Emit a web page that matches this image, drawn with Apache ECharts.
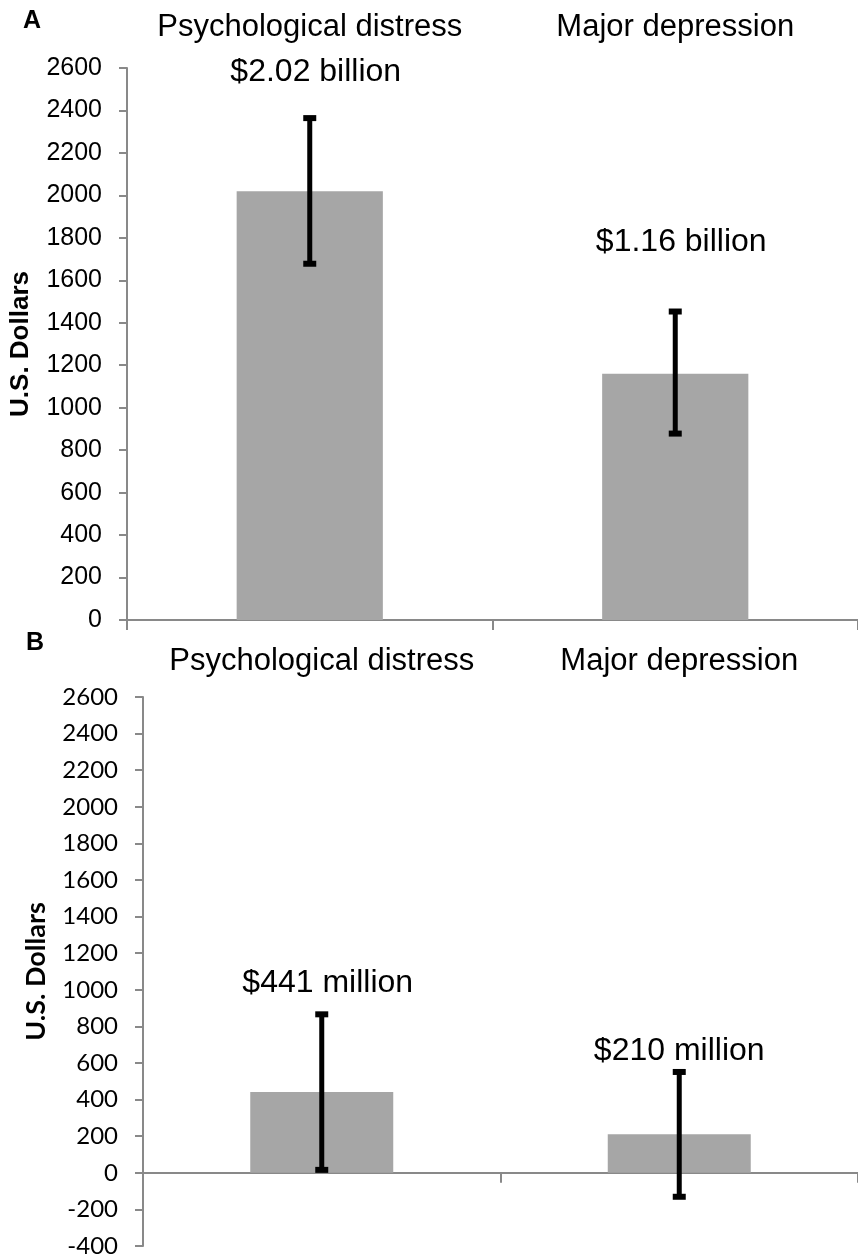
<!DOCTYPE html>
<html>
<head>
<meta charset="utf-8">
<script src="https://cdn.jsdelivr.net/npm/echarts@6/dist/echarts.min.js"></script>
<style>
  html, body { margin: 0; padding: 0; background: #fff; }
  #chart { width: 858px; height: 1258px; }
</style>
</head>
<body>
<div id="chart"></div>
<script>
// ---- data ----
var categories = ['Psychological distress', 'Major depression'];
// Panel A
var costA = [2020, 1160];
var ciLowA = [1678, 878];
var ciHighA = [2364, 1453];
var labelsA = ['$2.02 billion', '$1.16 billion'];
// Panel B
var costB = [441, 210];
var ciLowB = [16, -131];
var ciHighB = [866, 551];
var labelsB = ['$441 million', '$210 million'];
// axis ranges
var yRangeA = { min: 0, max: 2600, interval: 200 };
var yRangeB = { min: -400, max: 2600, interval: 200 };
var axisName = 'U.S. Dollars';

// ---- styles ----
var ARIAL = '"Liberation Sans", Arial, sans-serif';
var CAL = 'Lato, "Liberation Sans", sans-serif';
var AXIS_COLOR = '#898989';
var BAR_COLOR = '#a6a6a6';
// label placement (pixels above the upper error cap, and horizontal nudge)
var labelGapA = [46, 69];
var labelGapB = [31, 21];
var labelDxA = [6, 6];
var labelDxB = [6, 0];

function errData(low, high, labels) {
  return low.map(function (l, i) { return [i, l, high[i], labels[i]]; });
}
function labelsFor(seriesIndex) { return seriesIndex === 1 ? labelsA : labelsB; }

function makeErrRender(gaps, dxs) {
  return function (params, api) {
    var idx = api.value(0);
    var top = api.coord([idx, api.value(2)]);
    var bot = api.coord([idx, api.value(1)]);
    var x = top[0];
    var stemW = 5, capW = 13, capH = 6;
    var label = labelsFor(params.seriesIndex)[params.dataIndex];
    return {
      type: 'group',
      children: [
        { type: 'rect', shape: { x: x - stemW / 2, y: top[1], width: stemW, height: bot[1] - top[1] }, style: { fill: '#000' } },
        { type: 'rect', shape: { x: x - capW / 2, y: top[1] - capH / 2, width: capW, height: capH }, style: { fill: '#000' } },
        { type: 'rect', shape: { x: x - capW / 2, y: bot[1] - capH / 2, width: capW, height: capH }, style: { fill: '#000' } },
        { type: 'text', x: x + dxs[params.dataIndex], y: top[1] - gaps[params.dataIndex],
          style: { text: label, fill: '#000', font: '32px ' + ARIAL, align: 'center', verticalAlign: 'middle' } }
      ]
    };
  };
}

function valueAxis(grid, range, font, fontSize, nameFont, nameSize) {
  return {
    type: 'value', gridIndex: grid, min: range.min, max: range.max, interval: range.interval,
    name: axisName, nameLocation: 'middle', nameGap: 93,
    nameTextStyle: { fontFamily: nameFont, fontSize: nameSize, fontWeight: 'bold', color: '#000' },
    axisLine: { show: true, lineStyle: { color: AXIS_COLOR, width: 2 } },
    axisTick: { show: true, length: 8, lineStyle: { color: AXIS_COLOR, width: 2 } },
    axisLabel: { fontFamily: font, fontSize: fontSize, color: '#000', margin: 25,
      formatter: function (v) { return String(v); } },
    splitLine: { show: false }
  };
}
function bottomCatAxis(grid) {
  return {
    type: 'category', gridIndex: grid, data: categories,
    axisLine: { show: true, lineStyle: { color: AXIS_COLOR, width: 2 } },
    axisTick: { show: true, length: 10, lineStyle: { color: AXIS_COLOR, width: 2 } },
    axisLabel: { show: false }
  };
}
function topCatAxis(grid, margin) {
  return {
    type: 'category', gridIndex: grid, data: categories, position: 'top',
    axisLine: { show: false }, axisTick: { show: false },
    axisLabel: { fontFamily: ARIAL, fontSize: 31, color: '#000', margin: margin, interval: 0, hideOverlap: false }
  };
}

var chart = echarts.init(document.getElementById('chart'), null, { renderer: 'canvas' });
chart.setOption({
  animation: false,
  backgroundColor: '#fff',
  title: [
    { text: 'A', left: 23, top: 9, padding: 0, textStyle: { fontFamily: ARIAL, fontSize: 25, fontWeight: 'bold', color: '#000' } },
    { text: 'B', left: 26, top: 631, padding: 0, textStyle: { fontFamily: ARIAL, fontSize: 25, fontWeight: 'bold', color: '#000' } }
  ],
  grid: [
    { left: 127, top: 68, width: 736, height: 552, containLabel: false },
    { left: 143, top: 697, width: 718, height: 550, containLabel: false }
  ],
  xAxis: [ bottomCatAxis(0), topCatAxis(0, 25), bottomCatAxis(1), topCatAxis(1, 20) ],
  yAxis: [
    valueAxis(0, yRangeA, ARIAL, 25, ARIAL, 26),
    valueAxis(1, yRangeB, CAL, 24, CAL, 27)
  ],
  series: [
    { type: 'bar', xAxisIndex: 0, yAxisIndex: 0, data: costA, barWidth: '40%', itemStyle: { color: BAR_COLOR }, z: 2 },
    { type: 'custom', xAxisIndex: 0, yAxisIndex: 0, data: errData(ciLowA, ciHighA, labelsA),
      renderItem: makeErrRender(labelGapA, labelDxA), encode: { x: 0, y: [1, 2] }, z: 5 },
    { type: 'bar', xAxisIndex: 2, yAxisIndex: 1, data: costB, barWidth: '40%', itemStyle: { color: BAR_COLOR }, z: 2 },
    { type: 'custom', xAxisIndex: 2, yAxisIndex: 1, data: errData(ciLowB, ciHighB, labelsB),
      renderItem: makeErrRender(labelGapB, labelDxB), encode: { x: 0, y: [1, 2] }, z: 5 }
  ]
});
</script>
</body>
</html>
